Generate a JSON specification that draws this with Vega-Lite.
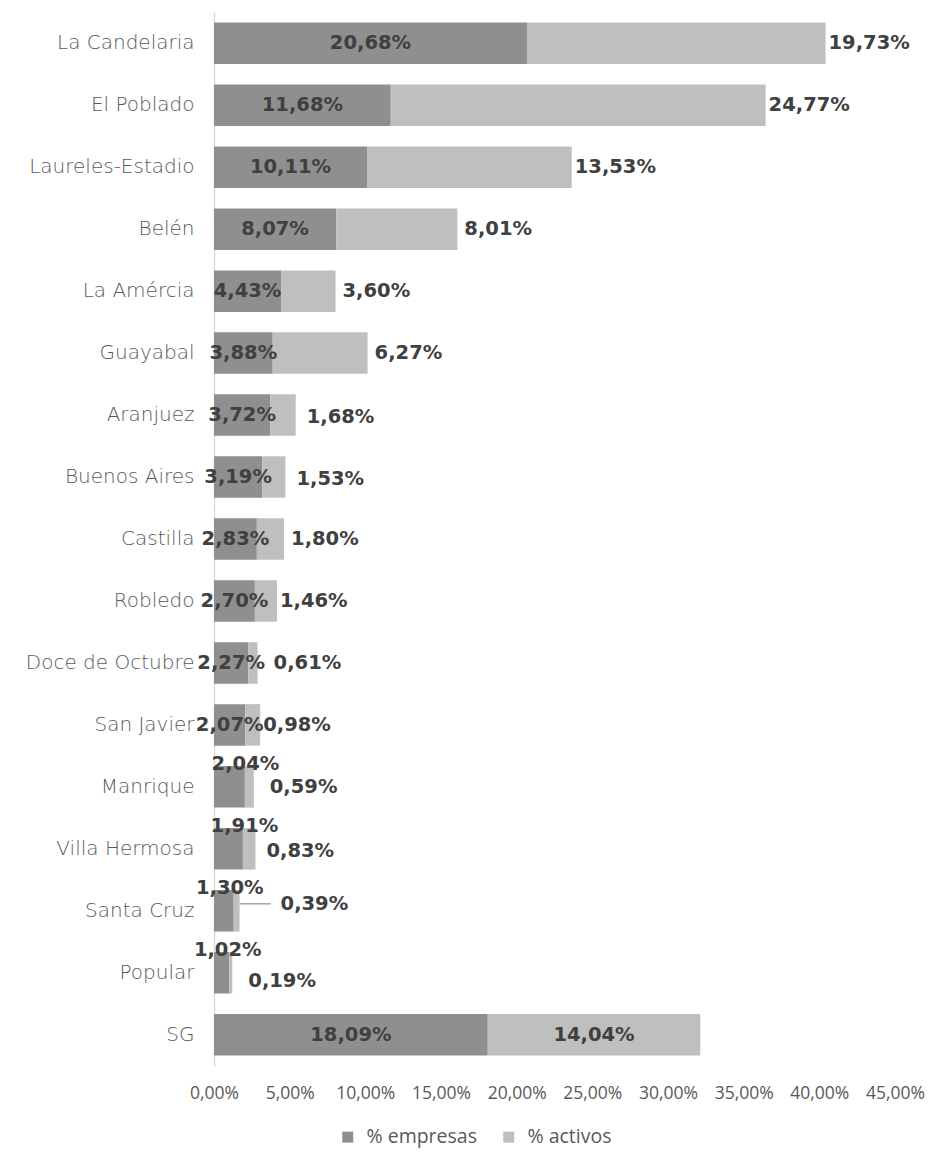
{
  "$schema": "https://vega.github.io/schema/vega-lite/v6.json",
  "autosize": {"type": "none"},
  "width": 681,
  "height": 1054,
  "padding": {"left": 214, "top": 12, "right": 33, "bottom": 88},
  "background": "white",
  "config": {
    "view": {"stroke": null},
    "locale": {"number": {"decimal": ",", "thousands": ".", "grouping": [3], "currency": ["$", ""]}},
    "axis": {"grid": false, "ticks": false},
    "text": {"font": "DejaVu Sans", "fontWeight": "bold", "fontSize": 19.5, "color": "#404040", "baseline": "middle"}
  },
  "data": {
    "values": [
      {"zona": "La Candelaria", "empresas": 0.2068, "activos": 0.1973},
      {"zona": "El Poblado", "empresas": 0.1168, "activos": 0.2477},
      {"zona": "Laureles-Estadio", "empresas": 0.1011, "activos": 0.1353},
      {"zona": "Belén", "empresas": 0.0807, "activos": 0.0801},
      {"zona": "La Amércia", "empresas": 0.0443, "activos": 0.0360},
      {"zona": "Guayabal", "empresas": 0.0388, "activos": 0.0627},
      {"zona": "Aranjuez", "empresas": 0.0372, "activos": 0.0168},
      {"zona": "Buenos Aires", "empresas": 0.0319, "activos": 0.0153},
      {"zona": "Castilla", "empresas": 0.0283, "activos": 0.0180},
      {"zona": "Robledo", "empresas": 0.0270, "activos": 0.0146},
      {"zona": "Doce de Octubre", "empresas": 0.0227, "activos": 0.0061},
      {"zona": "San Javier", "empresas": 0.0207, "activos": 0.0098},
      {"zona": "Manrique", "empresas": 0.0204, "activos": 0.0059},
      {"zona": "Villa Hermosa", "empresas": 0.0191, "activos": 0.0083},
      {"zona": "Santa Cruz", "empresas": 0.0130, "activos": 0.0039},
      {"zona": "Popular", "empresas": 0.0102, "activos": 0.0019},
      {"zona": "SG", "empresas": 0.1809, "activos": 0.1404}
    ]
  },
  "transform": [
    {"calculate": "datum.empresas + datum.activos", "as": "tot"},
    {"calculate": "datum.empresas / 2", "as": "mid"},
    {"calculate": "datum.empresas + datum.activos / 2", "as": "mid2"}
  ],
  "encoding": {
    "y": {
      "field": "zona", "type": "nominal", "sort": null,
      "scale": {"paddingInner": 0.33, "paddingOuter": 0.17},
      "axis": {
        "title": null, "domain": true, "domainColor": "#d9d9d9", "domainWidth": 1.5,
        "labelFont": "DejaVu Sans", "labelFontWeight": 200, "labelFontSize": 20,
        "labelColor": "#595959", "labelPadding": 20, "labelLimit": 300
      }
    }
  },
  "layer": [
    {
      "transform": [{"fold": ["empresas", "activos"], "as": ["serie", "valor"]}],
      "mark": {"type": "bar"},
      "encoding": {
        "x": {
          "field": "valor", "type": "quantitative", "stack": "zero",
          "scale": {"domain": [0, 0.45], "nice": false, "zero": true},
          "axis": {
            "title": null, "domain": false, "values": [0, 0.05, 0.1, 0.15, 0.2, 0.25, 0.3, 0.35, 0.4, 0.45],
            "format": ".2%", "labelFont": "Open Sans", "labelFontSize": 17.5, "labelColor": "#595959",
            "labelPadding": 18, "labelFlush": false
          }
        },
        "color": {
          "field": "serie", "type": "nominal",
          "scale": {"domain": ["empresas", "activos"], "range": ["#8f8f8f", "#bfbfbf"]},
          "legend": {
            "title": null, "orient": "none", "direction": "horizontal",
            "legendX": 124, "legendY": 1115,
            "labelExpr": "'% ' + datum.label",
            "symbolType": "square", "symbolSize": 121, "symbolStrokeWidth": 0,
            "labelFont": "Open Sans", "labelFontSize": 19.5, "labelColor": "#595959",
            "labelOffset": 9, "columnPadding": 22
          }
        },
        "order": {"field": "serie", "sort": "descending"}
      }
    },
    {
      "transform": [{"filter": {"not": {"field": "zona", "oneOf": ["Manrique", "Villa Hermosa", "Santa Cruz", "Popular"]}}}],
      "mark": {"type": "text", "align": "center"},
      "encoding": {"x": {"field": "mid", "type": "quantitative"}, "text": {"field": "empresas", "type": "quantitative", "format": ".2%"}}
    },
    {
      "transform": [{"filter": {"field": "zona", "oneOf": ["Manrique", "Villa Hermosa"]}}],
      "mark": {"type": "text", "align": "center", "dx": 16, "dy": -23},
      "encoding": {"x": {"field": "mid", "type": "quantitative"}, "text": {"field": "empresas", "type": "quantitative", "format": ".2%"}}
    },
    {
      "transform": [{"filter": {"field": "zona", "oneOf": ["Santa Cruz", "Popular"]}}],
      "mark": {"type": "text", "align": "center", "dx": 6, "dy": -23},
      "encoding": {"x": {"field": "mid", "type": "quantitative"}, "text": {"field": "empresas", "type": "quantitative", "format": ".2%"}}
    },
    {
      "transform": [{"filter": {"field": "zona", "oneOf": ["La Candelaria", "El Poblado", "Laureles-Estadio", "Robledo", "San Javier"]}}],
      "mark": {"type": "text", "align": "left", "dx": 3},
      "encoding": {"x": {"field": "tot", "type": "quantitative"}, "text": {"field": "activos", "type": "quantitative", "format": ".2%"}}
    },
    {
      "transform": [{"filter": {"field": "zona", "oneOf": ["Belén", "Guayabal", "Castilla", "La Amércia"]}}],
      "mark": {"type": "text", "align": "left", "dx": 7},
      "encoding": {"x": {"field": "tot", "type": "quantitative"}, "text": {"field": "activos", "type": "quantitative", "format": ".2%"}}
    },
    {
      "transform": [{"filter": {"field": "zona", "oneOf": ["Aranjuez", "Buenos Aires", "Villa Hermosa"]}}],
      "mark": {"type": "text", "align": "left", "dx": 11, "dy": 2},
      "encoding": {"x": {"field": "tot", "type": "quantitative"}, "text": {"field": "activos", "type": "quantitative", "format": ".2%"}}
    },
    {
      "transform": [{"filter": {"field": "zona", "oneOf": ["Doce de Octubre", "Manrique"]}}],
      "mark": {"type": "text", "align": "left", "dx": 16},
      "encoding": {"x": {"field": "tot", "type": "quantitative"}, "text": {"field": "activos", "type": "quantitative", "format": ".2%"}}
    },
    {
      "transform": [{"filter": {"field": "zona", "equal": "Popular"}}],
      "mark": {"type": "text", "align": "left", "dx": 16, "dy": 8},
      "encoding": {"x": {"field": "tot", "type": "quantitative"}, "text": {"field": "activos", "type": "quantitative", "format": ".2%"}}
    },
    {
      "transform": [{"filter": {"field": "zona", "equal": "Santa Cruz"}}],
      "mark": {"type": "text", "align": "left", "dx": 41, "dy": -7},
      "encoding": {"x": {"field": "tot", "type": "quantitative"}, "text": {"field": "activos", "type": "quantitative", "format": ".2%"}}
    },
    {
      "transform": [{"filter": {"field": "zona", "equal": "Santa Cruz"}}],
      "mark": {"type": "rule", "color": "#a6a6a6", "strokeWidth": 1.5, "yOffset": -7},
      "encoding": {"x": {"field": "tot", "type": "quantitative"}, "x2": {"datum": 0.0375}}
    },
    {
      "transform": [{"filter": {"field": "zona", "equal": "SG"}}],
      "mark": {"type": "text", "align": "center"},
      "encoding": {"x": {"field": "mid2", "type": "quantitative"}, "text": {"field": "activos", "type": "quantitative", "format": ".2%"}}
    }
  ]
}
